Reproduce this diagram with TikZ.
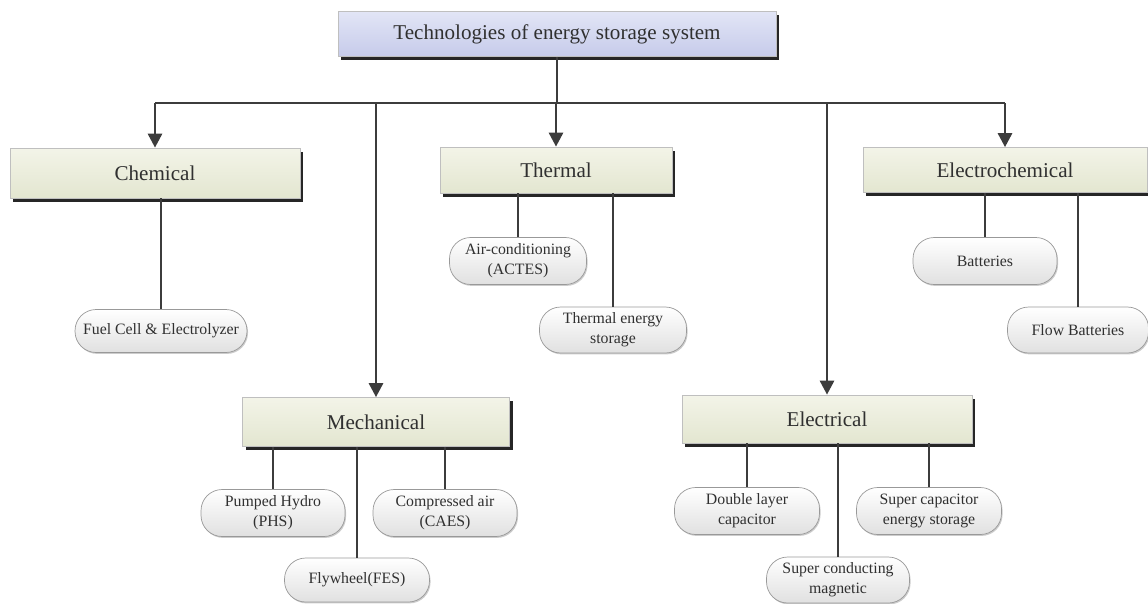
\documentclass[tikz,border=0pt]{standalone}
\usepackage{fontspec}
\setmainfont{Liberation Serif}
\usepackage{tikz}
\usetikzlibrary{arrows.meta, shadows}
\definecolor{linegray}{HTML}{3C3C3C}
\definecolor{textgray}{HTML}{303030}
\definecolor{roottop}{HTML}{E2E5F6}
\definecolor{rootbot}{HTML}{C6CBEA}
\definecolor{cattop}{HTML}{F3F4E8}
\definecolor{catbot}{HTML}{E3E6D0}
\tikzstyle{line} = [draw=linegray, line width=1.6pt]
\tikzstyle{arrow} = [line, -{Triangle[width=8pt,length=8pt]}]
\tikzstyle{rootbox} = [draw=black!25, rectangle, top color=roottop, bottom color=rootbot,
    drop shadow={shadow xshift=1.8pt, shadow yshift=-1.8pt, fill=black!85, opacity=1},
    text=textgray, font=\fontsize{12}{14}\selectfont]
\tikzstyle{catbox} = [draw=black!25, rectangle, top color=cattop, bottom color=catbot,
    drop shadow={shadow xshift=1.8pt, shadow yshift=-2pt, fill=black!85, opacity=1},
    text=textgray, font=\fontsize{12}{14}\selectfont]
\tikzstyle{leaf} = [draw=black!40, rectangle, rounded corners=12pt, top color=white, bottom color=black!12,
    drop shadow={shadow xshift=0.6pt, shadow yshift=-0.8pt, fill=black!20, opacity=1},
    text=textgray, align=center, inner sep=1pt, font=\fontsize{9}{11.5}\selectfont]

\begin{document}
\begin{tikzpicture}[x=0.02cm, y=-0.02cm]
        \useasboundingbox (0,0) rectangle (1148,603);
        \node (root)[rootbox,
            minimum width=8.76cm,
            minimum height=0.9cm] at (557,34) {Technologies of energy storage system};
        % categories
        \node (chem)[catbox,
            minimum width=5.8cm,
            minimum height=1cm] at (155,173) {Chemical};
        \node (therm)[catbox,
            minimum width=4.64cm,
            minimum height=0.92cm] at (556,170) {Thermal};
        \node (echem)[catbox,
            minimum width=5.68cm,
            minimum height=0.9cm] at (1005,170) {Electrochemical};
        \node (mech)[catbox,
            minimum width=5.34cm,
            minimum height=0.98cm] at (376,422) {Mechanical};
        \node (elec)[catbox,
            minimum width=5.8cm,
            minimum height=0.96cm] at (827,419) {Electrical};
        % bus
        \coordinate (bus) at (557,103);
        \draw [line] (root.south) -- (bus);
        \draw [line] (bus -| chem.north) -- (bus -| echem.north);
        \foreach \cat in {chem, mech, therm, elec, echem}
            \draw [arrow] (bus -| \cat.north) -- (\cat.north);
        % leaves
        \node (fuel)[leaf, minimum width=3.44cm, minimum height=0.86cm] at (161,331) {Fuel Cell \& Electrolyzer};
        \node (actes)[leaf, minimum width=2.74cm, minimum height=0.94cm] at (518,261) {Air-conditioning\\(ACTES)};
        \node (tes)[leaf, minimum width=2.94cm, minimum height=0.92cm] at (613,330) {Thermal energy\\storage};
        \node (batt)[leaf, minimum width=2.88cm, minimum height=0.94cm] at (985,261) {Batteries};
        \node (flow)[leaf, minimum width=2.82cm, minimum height=0.92cm] at (1078,330) {Flow Batteries};
        \node (phs)[leaf, minimum width=2.88cm, minimum height=0.94cm] at (273,513) {Pumped Hydro\\(PHS)};
        \node (caes)[leaf, minimum width=2.88cm, minimum height=0.94cm] at (445,513) {Compressed air\\(CAES)};
        \node (fes)[leaf, minimum width=2.9cm, minimum height=0.88cm] at (357,580) {Flywheel(FES)};
        \node (dlc)[leaf, minimum width=2.9cm, minimum height=0.94cm] at (747,511) {Double layer\\capacitor};
        \node (scap)[leaf, minimum width=2.9cm, minimum height=0.94cm] at (929,511) {Super capacitor\\energy storage};
        \node (smes)[leaf, minimum width=2.86cm, minimum height=0.92cm] at (838,580) {Super conducting\\magnetic};
        % links
        \draw [line] (chem.south -| fuel.north) -- (fuel.north);
        \draw [line] (therm.south -| actes.north) -- (actes.north);
        \draw [line] (therm.south -| tes.north) -- (tes.north);
        \draw [line] (echem.south -| batt.north) -- (batt.north);
        \draw [line] (echem.south -| flow.north) -- (flow.north);
        \draw [line] (mech.south -| phs.north) -- (phs.north);
        \draw [line] (mech.south -| caes.north) -- (caes.north);
        \draw [line] (mech.south -| fes.north) -- (fes.north);
        \draw [line] (elec.south -| dlc.north) -- (dlc.north);
        \draw [line] (elec.south -| scap.north) -- (scap.north);
        \draw [line] (elec.south -| smes.north) -- (smes.north);
    \end{tikzpicture}
\end{document}
